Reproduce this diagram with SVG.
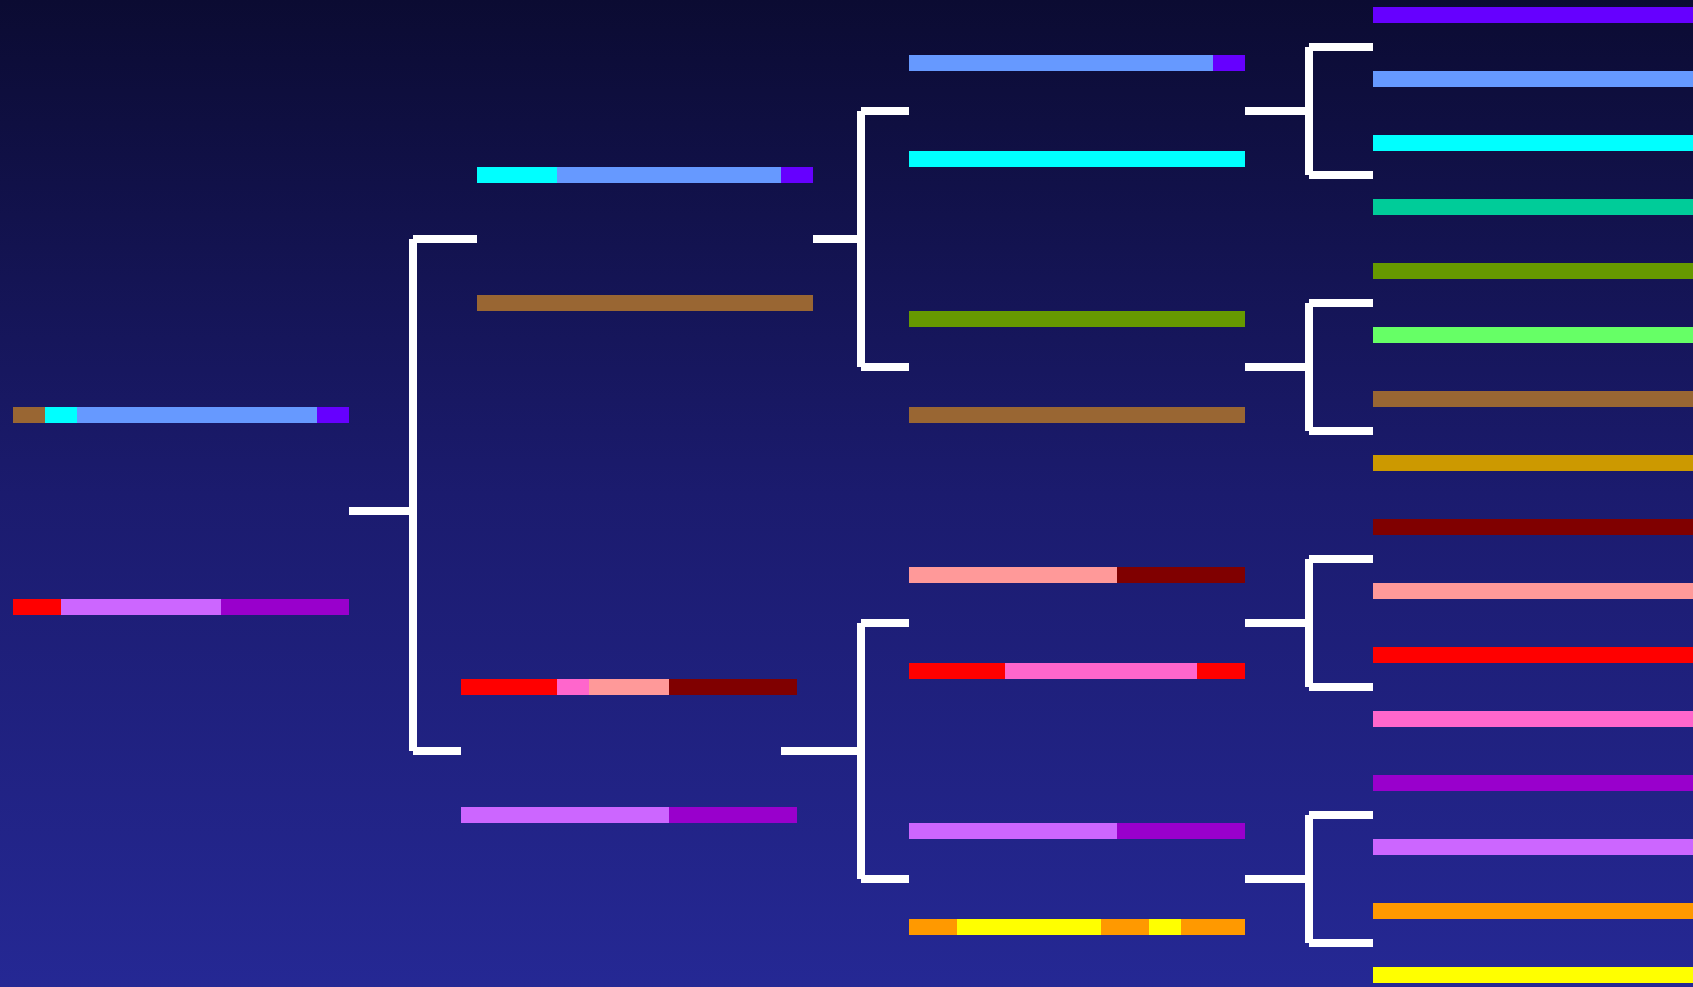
<svg xmlns="http://www.w3.org/2000/svg" width="1693" height="987" viewBox="0 0 1693 987">
<defs>
<linearGradient id="bg" x1="0" y1="0" x2="0" y2="1">
<stop offset="0" stop-color="#0b0b32"/>
<stop offset="0.5" stop-color="#1b1b6e"/>
<stop offset="1" stop-color="#252894"/>
</linearGradient>
</defs>
<style>
.c{stroke:#ffffff;stroke-width:8;fill:none;stroke-linecap:butt}
</style>
<rect width="1693" height="987" fill="url(#bg)"/>
<g id="connectors">
<path class="c" d="M349 511H409M413 239V751M413 239H477M413 751H461"/>
<path class="c" d="M813 239H857M861 111V367M861 111H909M861 367H909"/>
<path class="c" d="M781 751H857M861 623V879M861 623H909M861 879H909"/>
<path class="c" d="M1245 111H1305M1309 47V175M1309 47H1373M1309 175H1373"/>
<path class="c" d="M1245 367H1305M1309 303V431M1309 303H1373M1309 431H1373"/>
<path class="c" d="M1245 623H1305M1309 559V687M1309 559H1373M1309 687H1373"/>
<path class="c" d="M1245 879H1305M1309 815V943M1309 815H1373M1309 943H1373"/>
</g>
<g id="root1"><rect x="13" y="407" width="32" height="16" fill="#996633"/><rect x="45" y="407" width="32" height="16" fill="#00ffff"/><rect x="77" y="407" width="240" height="16" fill="#6699ff"/><rect x="317" y="407" width="32" height="16" fill="#6600ff"/></g>
<g id="root2"><rect x="13" y="599" width="48" height="16" fill="#ff0000"/><rect x="61" y="599" width="160" height="16" fill="#cc66ff"/><rect x="221" y="599" width="128" height="16" fill="#9900cc"/></g>
<g id="n1a"><rect x="477" y="167" width="80" height="16" fill="#00ffff"/><rect x="557" y="167" width="224" height="16" fill="#6699ff"/><rect x="781" y="167" width="32" height="16" fill="#6600ff"/></g>
<g id="n1b"><rect x="477" y="295" width="336" height="16" fill="#996633"/></g>
<g id="n1c"><rect x="461" y="679" width="96" height="16" fill="#ff0000"/><rect x="557" y="679" width="32" height="16" fill="#ff66cc"/><rect x="589" y="679" width="80" height="16" fill="#ff9999"/><rect x="669" y="679" width="128" height="16" fill="#800000"/></g>
<g id="n1d"><rect x="461" y="807" width="208" height="16" fill="#cc66ff"/><rect x="669" y="807" width="128" height="16" fill="#9900cc"/></g>
<g id="n2a"><rect x="909" y="55" width="304" height="16" fill="#6699ff"/><rect x="1213" y="55" width="32" height="16" fill="#6600ff"/></g>
<g id="n2b"><rect x="909" y="151" width="336" height="16" fill="#00ffff"/></g>
<g id="n2c"><rect x="909" y="311" width="336" height="16" fill="#669900"/></g>
<g id="n2d"><rect x="909" y="407" width="336" height="16" fill="#996633"/></g>
<g id="n2e"><rect x="909" y="567" width="208" height="16" fill="#ff9999"/><rect x="1117" y="567" width="128" height="16" fill="#800000"/></g>
<g id="n2f"><rect x="909" y="663" width="96" height="16" fill="#ff0000"/><rect x="1005" y="663" width="192" height="16" fill="#ff66cc"/><rect x="1197" y="663" width="48" height="16" fill="#ff0000"/></g>
<g id="n2g"><rect x="909" y="823" width="208" height="16" fill="#cc66ff"/><rect x="1117" y="823" width="128" height="16" fill="#9900cc"/></g>
<g id="n2h"><rect x="909" y="919" width="48" height="16" fill="#ff9900"/><rect x="957" y="919" width="144" height="16" fill="#ffff00"/><rect x="1101" y="919" width="48" height="16" fill="#ff9900"/><rect x="1149" y="919" width="32" height="16" fill="#ffff00"/><rect x="1181" y="919" width="64" height="16" fill="#ff9900"/></g>
<g id="leaf1"><rect x="1373" y="7" width="336" height="16" fill="#6600ff"/></g>
<g id="leaf2"><rect x="1373" y="71" width="336" height="16" fill="#6699ff"/></g>
<g id="leaf3"><rect x="1373" y="135" width="336" height="16" fill="#00ffff"/></g>
<g id="leaf4"><rect x="1373" y="199" width="336" height="16" fill="#00cc99"/></g>
<g id="leaf5"><rect x="1373" y="263" width="336" height="16" fill="#669900"/></g>
<g id="leaf6"><rect x="1373" y="327" width="336" height="16" fill="#66ff66"/></g>
<g id="leaf7"><rect x="1373" y="391" width="336" height="16" fill="#996633"/></g>
<g id="leaf8"><rect x="1373" y="455" width="336" height="16" fill="#cc9900"/></g>
<g id="leaf9"><rect x="1373" y="519" width="336" height="16" fill="#800000"/></g>
<g id="leaf10"><rect x="1373" y="583" width="336" height="16" fill="#ff9999"/></g>
<g id="leaf11"><rect x="1373" y="647" width="336" height="16" fill="#ff0000"/></g>
<g id="leaf12"><rect x="1373" y="711" width="336" height="16" fill="#ff66cc"/></g>
<g id="leaf13"><rect x="1373" y="775" width="336" height="16" fill="#9900cc"/></g>
<g id="leaf14"><rect x="1373" y="839" width="336" height="16" fill="#cc66ff"/></g>
<g id="leaf15"><rect x="1373" y="903" width="336" height="16" fill="#ff9900"/></g>
<g id="leaf16"><rect x="1373" y="967" width="336" height="16" fill="#ffff00"/></g>
</svg>
